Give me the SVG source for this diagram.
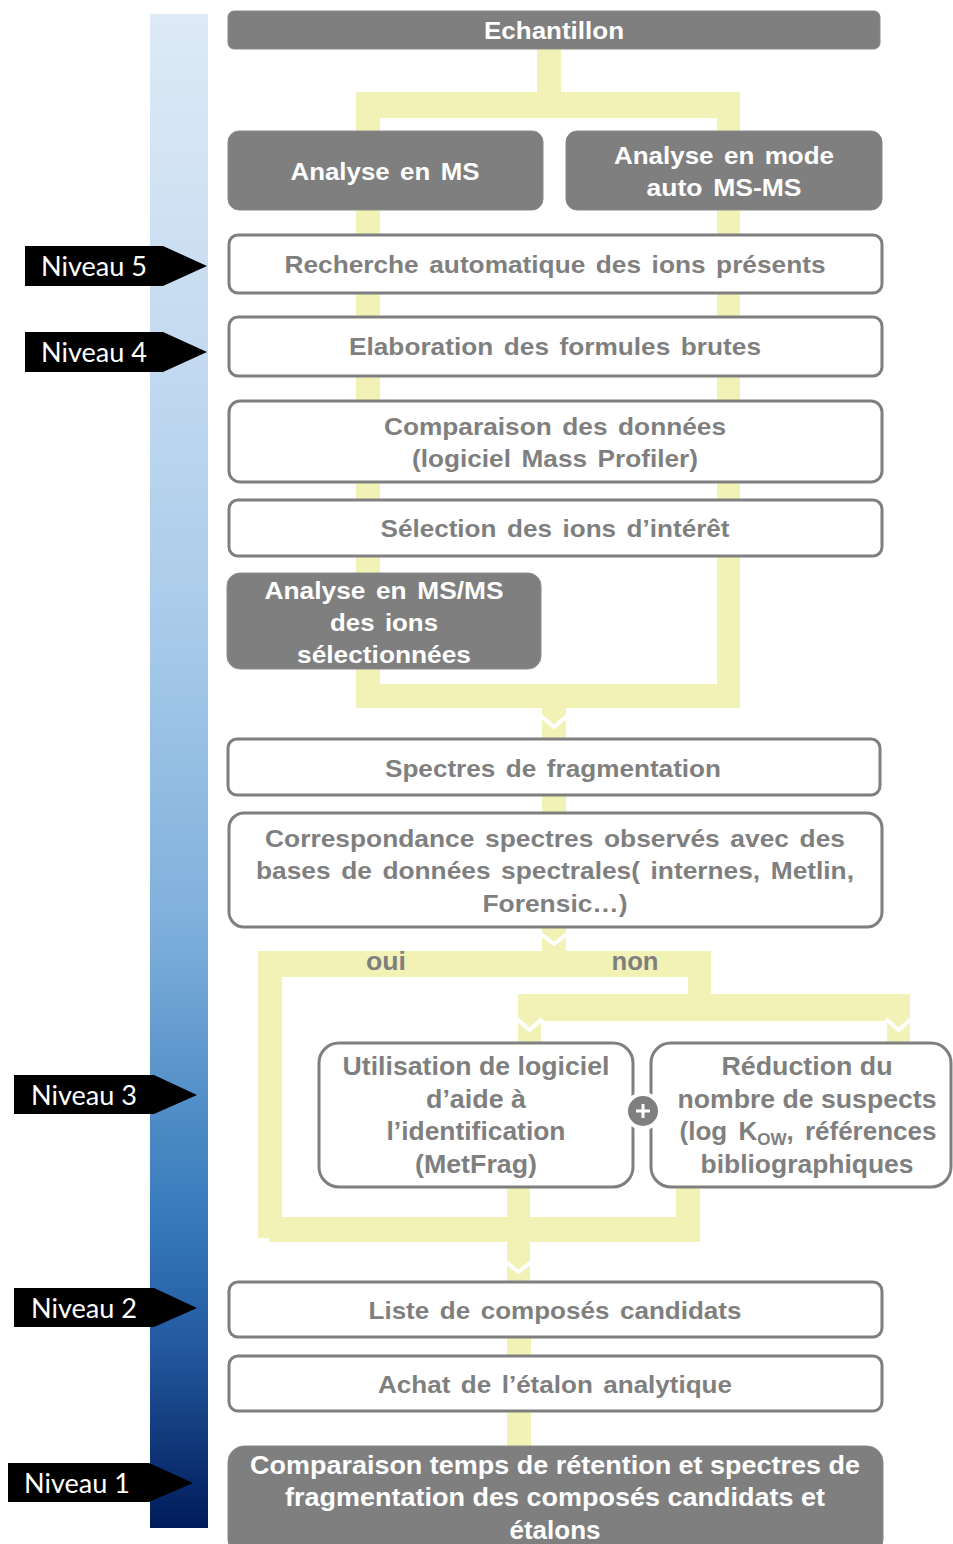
<svg xmlns="http://www.w3.org/2000/svg" width="953" height="1544" viewBox="0 0 953 1544">
<defs>
<linearGradient id="bar" x1="0" y1="0" x2="0" y2="1">
<stop offset="0" stop-color="#deeaf6"/>
<stop offset="0.2" stop-color="#c7dcf1"/>
<stop offset="0.4" stop-color="#a9cbea"/>
<stop offset="0.6" stop-color="#7fb0dc"/>
<stop offset="0.8" stop-color="#3478ba"/>
<stop offset="0.88" stop-color="#23599f"/>
<stop offset="1" stop-color="#001b5a"/>
</linearGradient>
<style>
.y{fill:#f2f2b6}
.chev{fill:none;stroke:#ffffff;stroke-width:4}
.dark{fill:#7f7f7f;stroke:#8a8a8a;stroke-width:1}
.box{fill:#ffffff;stroke:#7f7f7f;stroke-width:3}
.tw{font-family:"Liberation Sans",Arial,sans-serif;font-weight:bold;font-size:24px;fill:#ffffff;text-anchor:middle;word-spacing:3px}
.tg{font-family:"Liberation Sans",Arial,sans-serif;font-weight:bold;font-size:24px;fill:#7f7f7f;text-anchor:middle;word-spacing:3px}
.tn{font-family:"Liberation Sans",Arial,sans-serif;font-weight:bold;font-size:26px;fill:#7f7f7f;text-anchor:middle}
.tb{font-family:"Liberation Sans",Arial,sans-serif;font-weight:bold;font-size:26px;fill:#ffffff;text-anchor:middle}
.lv{fill:#000000}
.lt{font-family:Lato,"Open Sans",sans-serif;font-size:26px;fill:#ffffff}
</style>
</defs>
<rect x="0" y="0" width="953" height="1544" fill="#ffffff"/>
<rect id="scale-bar" x="150" y="14" width="58" height="1514" fill="url(#bar)"/>

<g id="connectors">
<rect class="y" x="537" y="49" width="24" height="45"/>
<rect class="y" x="356" y="92" width="384" height="26"/>
<rect class="y" x="356" y="92" width="24" height="616"/>
<rect class="y" x="717" y="92" width="23" height="616"/>
<rect class="y" x="356" y="684" width="384" height="24"/>
<rect class="y" x="542" y="708" width="24" height="32"/>
<polyline class="chev" points="541,716 554,727 567,716"/>
<rect class="y" x="542" y="795" width="24" height="19"/>
<rect class="y" x="542" y="927" width="24" height="24"/>
<polyline class="chev" points="541,934 554,944 567,934"/>
<rect class="y" x="258" y="951" width="443" height="26"/>
<rect class="y" x="688" y="951" width="23" height="44"/>
<rect class="y" x="518" y="994" width="392" height="27"/>
<rect class="y" x="518" y="994" width="23" height="50"/>
<polyline class="chev" points="517,1019 529.5,1030 542,1019"/>
<rect class="y" x="887" y="994" width="23" height="50"/>
<polyline class="chev" points="886,1019 898.5,1030 911,1019"/>
<rect class="y" x="258" y="951" width="24" height="287"/>
<rect class="y" x="269" y="1217" width="431" height="25"/>
<rect class="y" x="507" y="1186" width="23" height="96"/>
<rect class="y" x="676" y="1186" width="24" height="32"/>
<polyline class="chev" points="506,1262 518.5,1272 531,1262"/>
<rect class="y" x="507" y="1336" width="24" height="21"/>
<rect class="y" x="507" y="1410" width="24" height="37"/>
</g>

<g id="n-echantillon">
<rect class="dark" x="228" y="11" width="652" height="38" rx="6"/>
<text class="tw" x="554" y="39" textLength="140" lengthAdjust="spacingAndGlyphs">Echantillon</text>
</g>
<g id="n-analyse-ms">
<rect class="dark" x="228" y="131" width="315" height="79" rx="11"/>
<text class="tw" x="385" y="180" textLength="189" lengthAdjust="spacingAndGlyphs">Analyse en MS</text>
</g>
<g id="n-analyse-auto">
<rect class="dark" x="566" y="131" width="316" height="79" rx="11"/>
<text class="tw" x="724" y="164" textLength="220" lengthAdjust="spacingAndGlyphs">Analyse en mode</text>
<text class="tw" x="724" y="196" textLength="155" lengthAdjust="spacingAndGlyphs">auto MS-MS</text>
</g>
<g id="n-recherche">
<rect class="box" x="229" y="235" width="653" height="58" rx="9"/>
<text class="tg" x="555" y="273" textLength="541" lengthAdjust="spacingAndGlyphs">Recherche automatique des ions présents</text>
</g>
<g id="n-elaboration">
<rect class="box" x="229" y="317" width="653" height="59" rx="9"/>
<text class="tg" x="555" y="355" textLength="412" lengthAdjust="spacingAndGlyphs">Elaboration des formules brutes</text>
</g>
<g id="n-comparaison-donnees">
<rect class="box" x="229" y="401" width="653" height="81" rx="11"/>
<text class="tg" x="555" y="435" textLength="342" lengthAdjust="spacingAndGlyphs">Comparaison des données</text>
<text class="tg" x="555" y="467" textLength="286" lengthAdjust="spacingAndGlyphs">(logiciel Mass Profiler)</text>
</g>
<g id="n-selection">
<rect class="box" x="229" y="500" width="653" height="56" rx="9"/>
<text class="tg" x="555" y="537" textLength="349" lengthAdjust="spacingAndGlyphs">Sélection des ions d’intérêt</text>
</g>
<g id="n-msms">
<rect class="dark" x="227" y="573" width="314" height="96" rx="13"/>
<text class="tw" x="384" y="599" textLength="239" lengthAdjust="spacingAndGlyphs">Analyse en MS/MS</text>
<text class="tw" x="384" y="631" textLength="108" lengthAdjust="spacingAndGlyphs">des ions</text>
<text class="tw" x="384" y="663" textLength="174" lengthAdjust="spacingAndGlyphs">sélectionnées</text>
</g>
<g id="n-spectres">
<rect class="box" x="228" y="739" width="652" height="56" rx="9"/>
<text class="tg" x="553" y="777" textLength="336" lengthAdjust="spacingAndGlyphs">Spectres de fragmentation</text>
</g>
<g id="n-correspondance">
<rect class="box" x="229" y="813" width="653" height="114" rx="15"/>
<text class="tg" x="555" y="847" textLength="580" lengthAdjust="spacingAndGlyphs">Correspondance spectres observés avec des</text>
<text class="tg" x="555" y="879" textLength="598" lengthAdjust="spacingAndGlyphs">bases de données spectrales( internes, Metlin,</text>
<text class="tg" x="555" y="912" textLength="145" lengthAdjust="spacingAndGlyphs">Forensic…)</text>
</g>
<g id="labels-branch">
<text class="tn" x="386" y="970" textLength="40" lengthAdjust="spacingAndGlyphs">oui</text>
<text class="tn" x="635" y="970" textLength="47" lengthAdjust="spacingAndGlyphs">non</text>
</g>
<g id="n-utilisation">
<rect class="box" x="319" y="1043" width="314" height="144" rx="20"/>
<text class="tn" x="476" y="1075" textLength="267" lengthAdjust="spacingAndGlyphs">Utilisation de logiciel</text>
<text class="tn" x="476" y="1108" textLength="100" lengthAdjust="spacingAndGlyphs">d’aide à</text>
<text class="tn" x="476" y="1140" textLength="179" lengthAdjust="spacingAndGlyphs">l’identification</text>
<text class="tn" x="476" y="1173" textLength="122" lengthAdjust="spacingAndGlyphs">(MetFrag)</text>
</g>
<g id="n-reduction">
<rect class="box" x="651" y="1043" width="300" height="144" rx="20"/>
<text class="tn" x="807" y="1075" textLength="171" lengthAdjust="spacingAndGlyphs">Réduction du</text>
<text class="tn" x="807" y="1108" textLength="259" lengthAdjust="spacingAndGlyphs">nombre de suspects</text>
<text class="tn" x="808" y="1140" word-spacing="4">(log K<tspan font-size="17" dy="5">OW</tspan><tspan dy="-5">, références</tspan></text>
<text class="tn" x="807" y="1173" textLength="213" lengthAdjust="spacingAndGlyphs">bibliographiques</text>
</g>
<g id="n-plus">
<circle cx="643" cy="1111" r="17" fill="#7f7f7f" stroke="#ffffff" stroke-width="4"/>
<path d="M636 1111 H650 M643 1104 V1118" stroke="#ffffff" stroke-width="3" fill="none"/>
</g>
<g id="n-liste">
<rect class="box" x="229" y="1282" width="653" height="55" rx="9"/>
<text class="tg" x="555" y="1319" textLength="373" lengthAdjust="spacingAndGlyphs">Liste de composés candidats</text>
</g>
<g id="n-achat">
<rect class="box" x="229" y="1356" width="653" height="55" rx="9"/>
<text class="tg" x="555" y="1393" textLength="354" lengthAdjust="spacingAndGlyphs">Achat de l’étalon analytique</text>
</g>
<g id="n-comparaison-temps">
<rect class="dark" x="228" y="1446" width="655" height="110" rx="16"/>
<text class="tb" x="555" y="1474" textLength="610" lengthAdjust="spacingAndGlyphs">Comparaison temps de rétention et spectres de</text>
<text class="tb" x="555" y="1506" textLength="540" lengthAdjust="spacingAndGlyphs">fragmentation des composés candidats et</text>
<text class="tb" x="555" y="1539" textLength="91" lengthAdjust="spacingAndGlyphs">étalons</text>
</g>

<g id="niveau-5">
<polygon class="lv" points="25,246 163,246 207,266 163,286 25,286"/>
<text class="lt" x="41" y="276" textLength="106" lengthAdjust="spacingAndGlyphs">Niveau 5</text>
</g>
<g id="niveau-4">
<polygon class="lv" points="25,332 163,332 207,352 163,372 25,372"/>
<text class="lt" x="41" y="362" textLength="106" lengthAdjust="spacingAndGlyphs">Niveau 4</text>
</g>
<g id="niveau-3">
<polygon class="lv" points="14,1075 154,1075 197,1095 154,1114 14,1114"/>
<text class="lt" x="31" y="1105" textLength="106" lengthAdjust="spacingAndGlyphs">Niveau 3</text>
</g>
<g id="niveau-2">
<polygon class="lv" points="14,1288 154,1288 197,1308 154,1327 14,1327"/>
<text class="lt" x="31" y="1318" textLength="106" lengthAdjust="spacingAndGlyphs">Niveau 2</text>
</g>
<g id="niveau-1">
<polygon class="lv" points="8,1463 149,1463 193,1483 149,1502 8,1502"/>
<text class="lt" x="24" y="1493" textLength="106" lengthAdjust="spacingAndGlyphs">Niveau 1</text>
</g>
</svg>
